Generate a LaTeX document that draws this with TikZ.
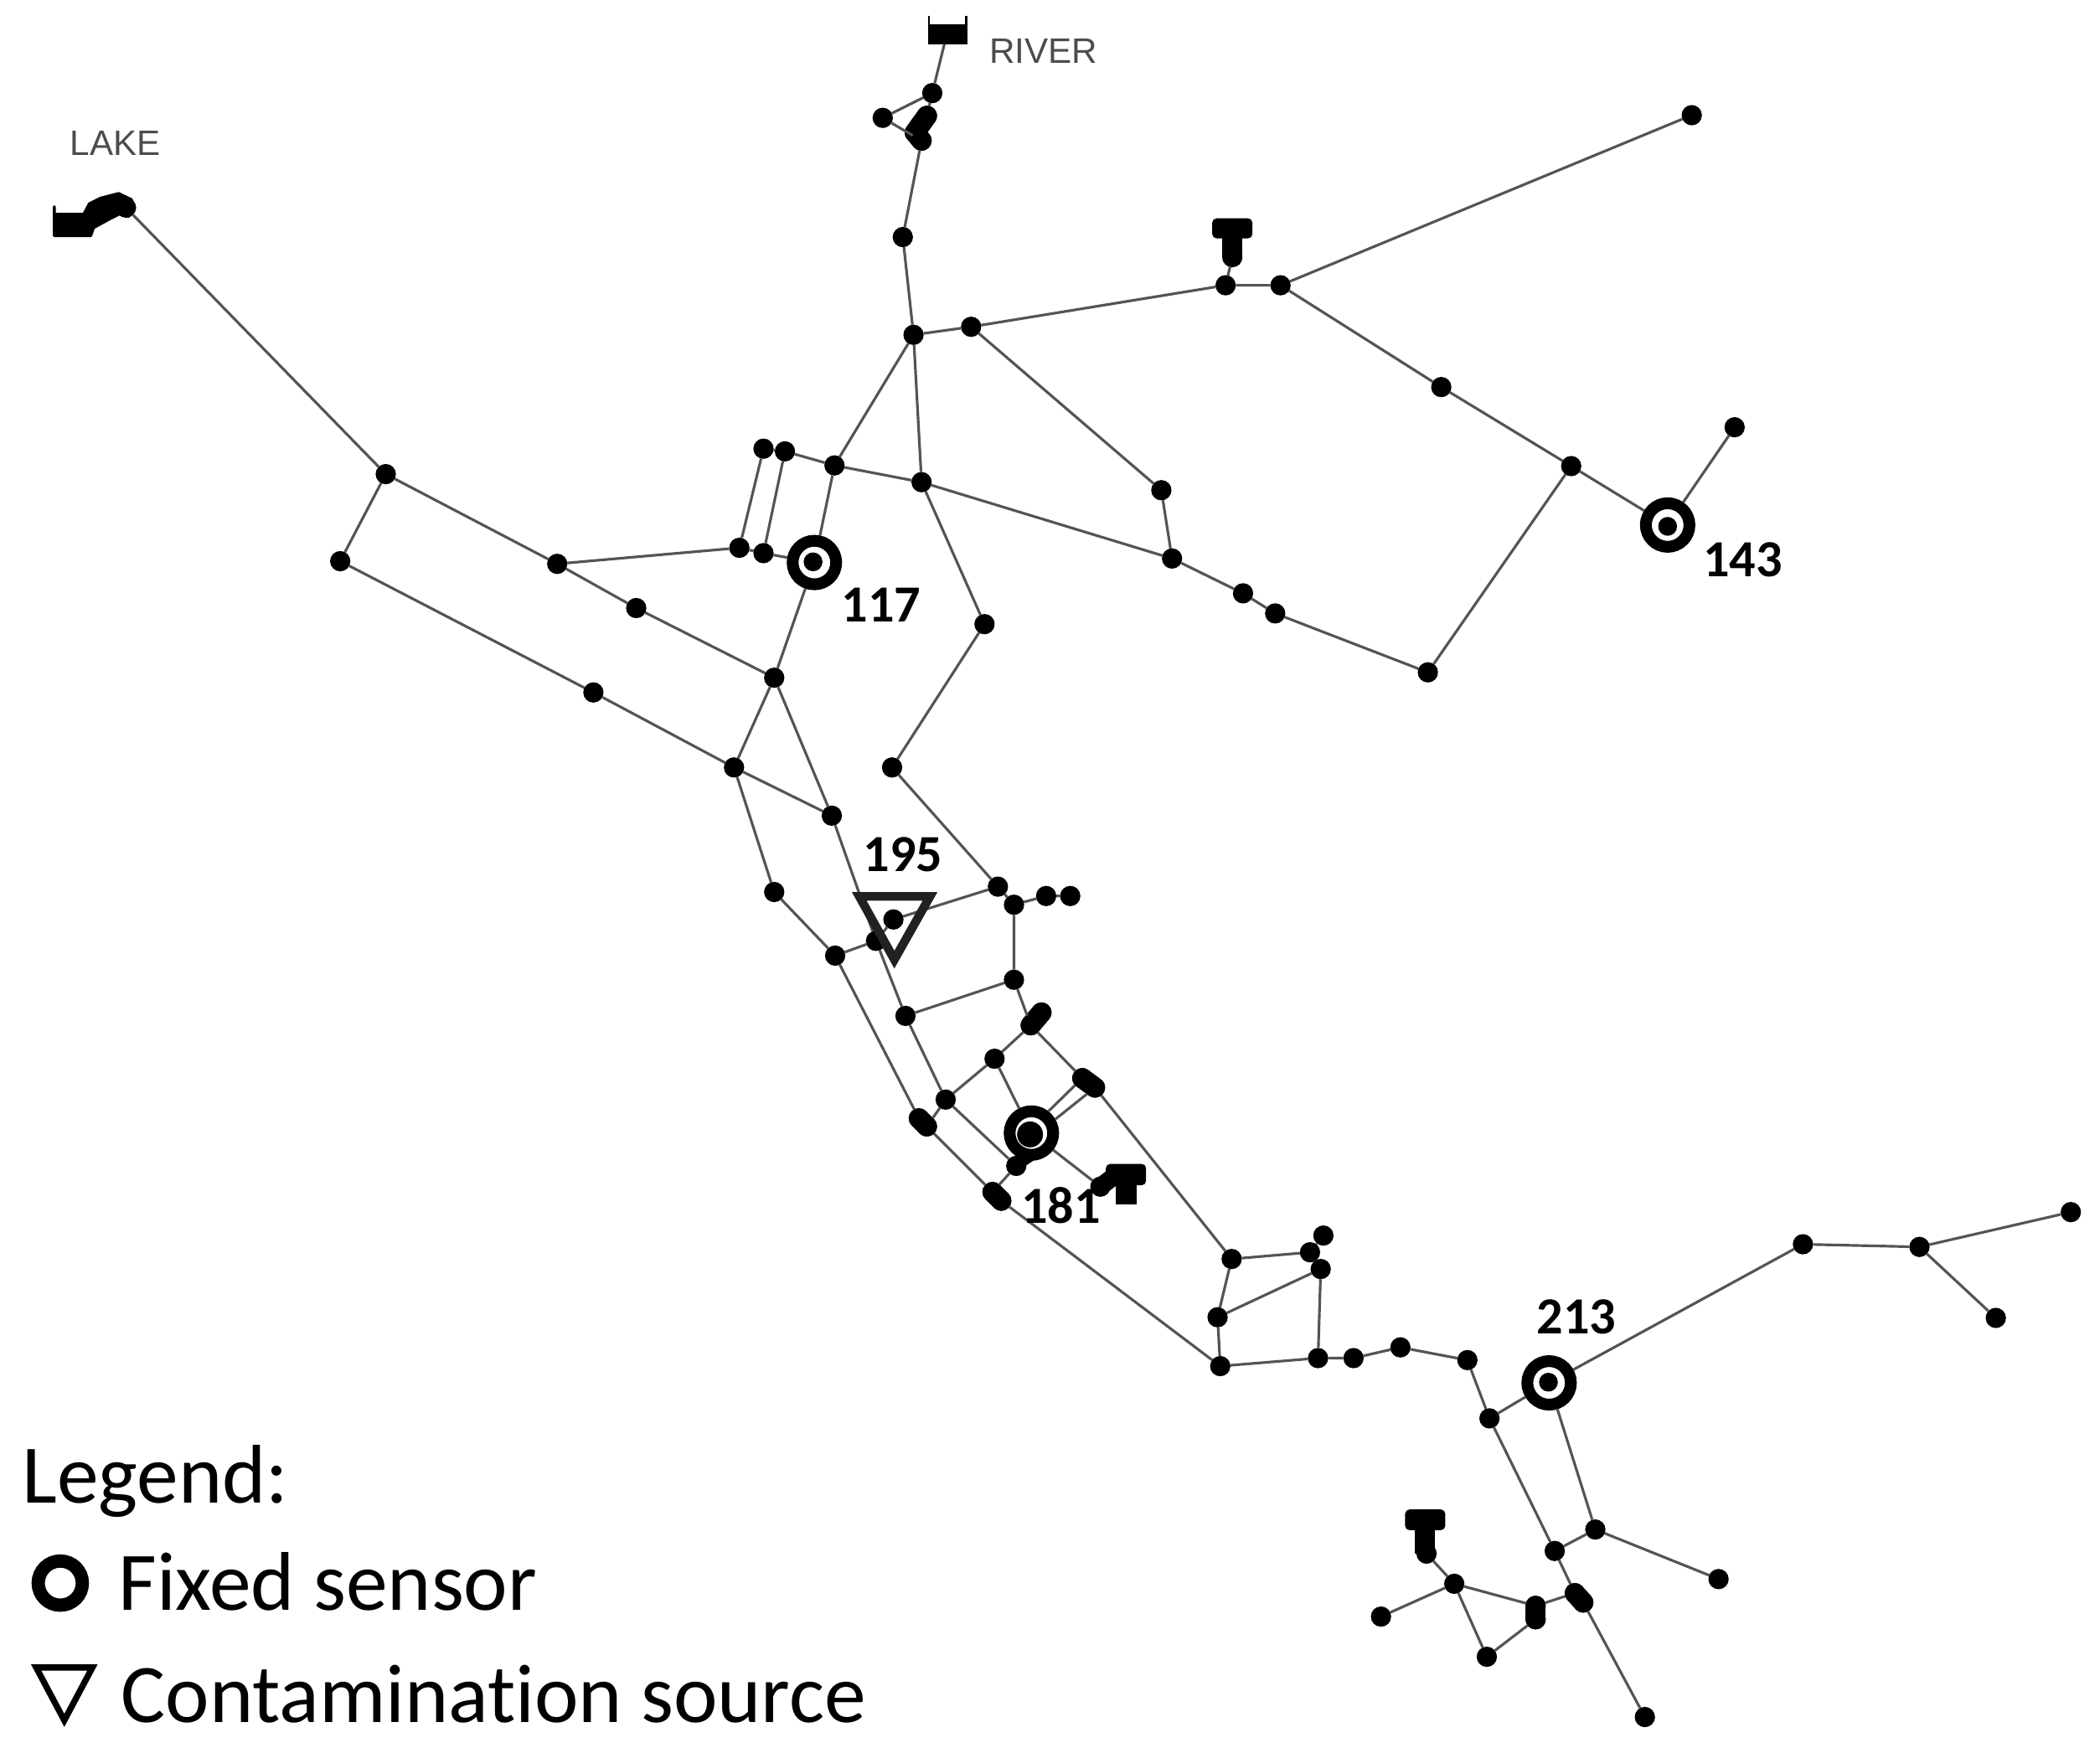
\documentclass[tikz,border=0pt]{standalone}
\usepackage{fontspec}
\setmainfont{Carlito}[Ligatures=NoCommon]
\newfontfamily\arialfont{Liberation Sans}
\definecolor{pipecol}{gray}{0.33}
\definecolor{labgray}{gray}{0.3}
\definecolor{srccol}{gray}{0.13}
\tikzset{
  jn/.style={circle,fill=black,inner sep=0pt,minimum size=6.9pt,outer sep=0pt},
  pipe/.style={draw=pipecol,line width=0.9pt},
  blob/.style={draw=black,line width=6.9pt,line cap=round,line join=round},
  ringnode/.style={circle,draw=black,fill=white,line width=4pt,inner sep=0pt,minimum size=14.8pt},
  numlab/.style={font=\fontsize{17.7}{20}\selectfont\bfseries,text=black,inner sep=0pt},
  leglab/.style={font=\fontsize{28.3}{32}\selectfont,text=black,inner sep=0pt,anchor=base west},
  maplab/.style={font=\arialfont\fontsize{12}{14}\selectfont,text=labgray,inner sep=0pt},
}
\begin{document}
\begin{tikzpicture}[x=0.01599cm,y=-0.01599cm]
\useasboundingbox (0,0) rectangle (1567.8,1304.6);

% sensors (rings)
\node[ringnode] (s117) at (608,420) {};
\node[ringnode] (s143) at (1245,392) {};
\node[ringnode] (s181) at (770,846) {};
\node[ringnode] (s213) at (1156.5,1032.5) {};

% junctions
\foreach \n/\x/\y in {
 lk/94/155, j1/288/354, j2/254/419, j3/416/421, j4/475/454, j5/578/506, j6/443/517, j7/548/573, j8/621/609, j9/578/666,
 a1/552/409, a2/570/413, b1/570/335, b2/586/337, b3/623/347.5, b4/688/360,
 c1/682/250, c2/725/244, c3/674/177,
 r1/696/69.5, r2/659/88, r3/692/86.5, r4/688/92, r5/683/99, r6/688/105,
 n0/915/213, n1/956/213, n2/1263/86, n3/1076/289, n4/1173/348, n5/1295/319, n6/1066/502, n7/952/458, n8/928/443, n9/875/417, n10/867/366,
 d1/735/466, d2/666/573, d3/745/662, d4/757/675.5, d5/781/669, d6/799/669,
 src/667/686.5, e1/654/702.5, e0/623.5/713.5, f1/757/731.5, f2/676/758.5,
 g1/769.5/765.5, g2/777.5/756, g3/742.5/790.5, g4/706/821, h1/686/835, h2/692/841,
 i1/808/805, i2/817.5/812, k1/758.7/870.5, m1/741/890, m2/747.5/896.5,
 q1/919.5/940, q2/978/935, q3/988/922.5, q4/986/947.5, q5/909/983.5,
 p1/911/1020, p2/984/1014, p3/1010.5/1014, p4/1045.5/1006, p5/1095.5/1015.5, p6/1112/1059,
 t1/1346/929, t2/1433/931, t3/1546/905, t4/1490/984,
 u0/1160.7/1158, u3/1191/1142, u4/1283/1179, u1/1175.7/1189.5, u5/1179/1193, u2/1182/1196.5,
 v1/1146.5/1199, v2/1146.5/1209, w1/1085.7/1182.5, w2/1031/1207, w3/1110/1237, w4/1228/1282,
 ta/920/192, tb/1065/1160, tc/821.5/886
} \node[jn] (\n) at (\x,\y) {};

% inner dots of the sensors
\node[jn,minimum size=6.4pt] (d117) at (607,419.5) {};
\node[jn,minimum size=6.4pt] (d143) at (1245,393) {};
\node[jn,minimum size=8.8pt] (d181) at (769,847) {};
\node[jn,minimum size=6.4pt] (d213) at (1156,1032) {};

% merged junction clusters
\draw[blob] (r3.center) -- (r4.center) -- (r5.center) -- (r6.center);
\draw[blob] (h1.center) -- (h2.center);
\draw[blob] (m1.center) -- (m2.center);
\draw[blob] (i1.center) -- (i2.center);
\draw[blob] (u1.center) -- (u2.center);
\draw[blob] (v1.center) -- (v2.center);
\draw[blob] (g1.center) -- (g2.center);
\draw[black,line width=3.5pt] (k1.center) -- (s181.center |- k1.north);

% reservoir and lake
\coordinate (rivb) at (705,33);
\fill[black] (693,18) rectangle (722,33);
\draw[black,line width=0.8pt] (693.5,12) -- (693.5,22) (721.5,12) -- (721.5,22);
\draw[black,fill=black,line width=1pt,line join=round] (40.5,154.3) -- (40.5,160) -- (62.5,160) -- (66.7,152.2) -- (75,148) -- (88.6,144.5) -- (98,149) -- (100.5,155.3) -- (95.9,161.6) -- (89.6,159.5) -- (81.3,163.7) -- (69.8,170) -- (67.7,176) -- (40.5,176) -- cycle;

% tanks
\fill[black,rounded corners=1.5pt] (905,163) rectangle (935,178);
\fill[black] (912.5,175) rectangle (927.5,192);
\fill[black,rounded corners=1.5pt] (1049,1127) rectangle (1079,1142.5);
\fill[black] (1056.5,1140) rectangle (1071.5,1160);
\fill[black,rounded corners=1.5pt] (825.6,869) rectangle (855.6,885);
\fill[black] (833,880) rectangle (848.5,899);
\draw[black,line width=6pt,line cap=round] (tc.center) -- (832,878);

% pipes
\draw[pipe] (rivb) -- (r1) -- (r2) -- (r6);
\draw[pipe] (r1) -- (r3);
\draw[pipe] (r6) -- (c3) -- (c1);
\draw[pipe] (lk) -- (j1) -- (j2) -- (j6) -- (j7) -- (j8) -- (e1) -- (f2) -- (f1) -- (d4) -- (d5) -- (d6);
\draw[pipe] (j1) -- (j3) -- (j4) -- (j5) -- (j7) -- (j9) -- (e0) -- (h1);
\draw[pipe] (h2) -- (m1);
\draw[pipe] (m2) -- (p1) -- (q5) -- (q1) -- (q2) -- (q3);
\draw[pipe] (j5) -- (j8);
\draw[pipe] (j3) -- (a1) -- (a2) -- (s117) -- (b3) -- (b2) -- (a2);
\draw[pipe] (s117) -- (j5);
\draw[pipe] (a1) -- (b1) -- (b2);
\draw[pipe] (b3) -- (c1) -- (c2) -- (n0) -- (n1) -- (n2);
\draw[pipe] (c1) -- (b4) -- (b3);
\draw[pipe] (n0) -- (ta);
\draw[pipe] (n1) -- (n3) -- (n4) -- (s143) -- (n5);
\draw[pipe] (n4) -- (n6) -- (n7) -- (n8) -- (n9) -- (b4) -- (d1) -- (d2) -- (d3) -- (d4);
\draw[pipe] (n9) -- (n10) -- (c2);
\draw[pipe] (e0) -- (e1) -- (src) -- (d3);
\draw[pipe] (f1) -- (g1);
\draw[pipe] (f2) -- (g4) -- (g3) -- (g1) -- (i1);
\draw[pipe] (i2) -- (q1);
\draw[pipe] (g4) -- (h2);
\draw[pipe] (g3) -- (s181);
\draw[pipe] (i1) -- (s181.52);
\draw[pipe] (i2) -- (s181.30);
\draw[pipe] (g4) -- (k1) -- (m1);
\draw[pipe] (s181) -- (tc);
\draw[pipe] (q2) -- (q4) -- (q5);
\draw[pipe] (q4) -- (p2) -- (p1);
\draw[pipe] (p2) -- (p3) -- (p4) -- (p5) -- (p6) -- (s213) -- (t1) -- (t2) -- (t3);
\draw[pipe] (t2) -- (t4);
\draw[pipe] (s213) -- (u3) -- (u4);
\draw[pipe] (p6) -- (u0) -- (u3);
\draw[pipe] (u0) -- (u1);
\draw[pipe] (u2) -- (w4);
\draw[pipe] (u1) -- (v1);
\draw[pipe] (v2) -- (w3) -- (w1) -- (v1);
\draw[pipe] (tb) -- (w1) -- (w2);

% contamination source
\draw[srccol,line width=2.95pt,line join=miter] (641.5,669.3) -- (694.3,669.3) -- (667.7,716.5) -- cycle;

% labels
\node[maplab] (lakelab) at (86,107) {LAKE};
\node[maplab] (riverlab) at (779,38) {RIVER};
\node[numlab] (l117) at (658,452) {117};
\node[numlab] (l143) at (1301,418) {143};
\node[numlab] (l181) at (792,900) {181};
\node[numlab] (l195) at (674,638) {195};
\node[numlab] (l213) at (1177,983) {213};

% legend
\node[leglab] (leg) at (16,1122) {Legend:};
\node[ringnode,minimum size=15pt,line width=4.5pt] (legs) at (45,1182) {};
\node[leglab] (legst) at (88,1202.5) {Fixed sensor};
\draw[black,line width=2.1pt,line join=miter] (27,1245) -- (69,1245) -- (48,1284.5) -- cycle;
\node[leglab] (legct) at (90,1286) {Contamination source};
\end{tikzpicture}
\end{document}
